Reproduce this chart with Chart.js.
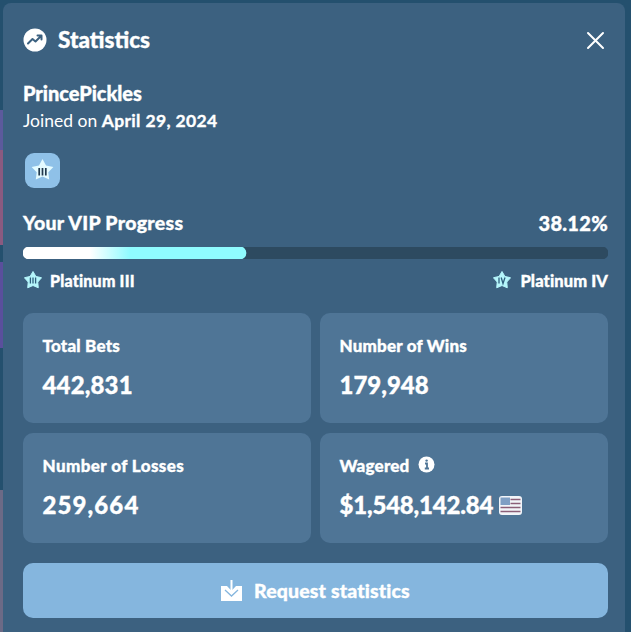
<!DOCTYPE html>
<html>
<head>
<meta charset="utf-8">
<script src="https://cdn.jsdelivr.net/npm/chart.js@4"></script>
<style>
  html, body { margin: 0; padding: 0; width: 631px; height: 632px; overflow: hidden; background: #24506e; }
  body { position: relative; font-family: Lato, sans-serif; color: #fff; }
  .strip { position: absolute; left: 0; width: 4px; }
  #panel { position: absolute; left: 3px; top: 3px; width: 622px; height: 640px; background: #3c6180; border-radius: 8px; }
  .t { position: absolute; white-space: nowrap; line-height: 1; }
  .heavy, .box .lbl, .box .val { -webkit-text-stroke: 0.35px #fff; }
  .box { position: absolute; width: 288px; height: 110px; background: #4f7596; border-radius: 10px; }
  .box .lbl { position: absolute; left: 19.5px; top: 24px; font-size: 17px; font-weight: 900; line-height: 1; white-space: nowrap; letter-spacing: 0.2px; }
  .box .val { position: absolute; left: 19.5px; top: 60px; font-size: 24px; font-weight: 900; line-height: 1; white-space: nowrap; letter-spacing: 0.15px; }
  .box.wins .val { letter-spacing: 0; }
  .box.losses .val { letter-spacing: 1.1px; }
  .box.losses .lbl { letter-spacing: 0.4px; }
  .box.wagered .val { letter-spacing: -0.2px; }
  #btn { position: absolute; left: 23px; top: 563px; width: 585px; height: 55px; background: #85b6de; border-radius: 10px; }
  svg { position: absolute; }
  #progressWrap { position: absolute; left: 23px; top: 247px; width: 585px; height: 12px; }
</style>
</head>
<body>
<div class="strip" style="top:110px;height:40px;background:#5c5a9c"></div>
<div class="strip" style="top:150px;height:95px;background:#8a5a80"></div>
<div class="strip" style="top:262px;height:86px;background:#5a4f9c"></div>
<div class="strip" style="top:490px;height:142px;background:#6c6a86"></div>
<div id="panel"></div>

<svg style="left:23px;top:28px" width="24" height="24" viewBox="0 0 24 24">
  <circle cx="12" cy="12" r="11.5" fill="#fff"/>
  <path d="M5 15.5 L9.5 11 L12.5 13.5 L18 8 M14.5 7.5 H18.5 V11.5" fill="none" stroke="#3c6180" stroke-width="2" stroke-linecap="round" stroke-linejoin="round"/>
</svg>
<div class="t heavy" id="title" style="left:58px;top:29px;font-size:22.5px;font-weight:900">Statistics</div>
<svg style="left:586px;top:31px" width="19" height="19" viewBox="0 0 19 19">
  <path d="M2 2 L17 17 M17 2 L2 17" stroke="#fff" stroke-width="2" stroke-linecap="round"/>
</svg>

<div class="t heavy" id="user" style="left:23px;top:83px;font-size:20px;font-weight:900;letter-spacing:-0.05px"></div>
<div class="t" style="left:23px;top:112px;font-size:17.5px;font-weight:400">Joined on <b id="joined" class="heavy" style="font-weight:700;letter-spacing:0.35px"></b></div>

<svg style="left:25px;top:153px" width="35" height="35" viewBox="0 0 35 35">
  <rect width="35" height="35" rx="9" fill="#8fc1e8"/>
  <path d="M17.5 6 L21 12.4 L28.4 13.9 L23.3 19.3 L24.2 26.6 L17.5 23.5 L10.8 26.6 L11.7 19.3 L6.6 13.9 L14 12.4 Z" fill="#e4fbff"/>
  <path d="M14.2 15 V22.5 M17.5 15 V22.5 M20.8 15 V22.5" stroke="#20384c" stroke-width="1.7"/>
</svg>

<div class="t heavy" style="left:23px;top:213px;font-size:19.5px;font-weight:900;letter-spacing:0.3px" id="vipTitle"></div>
<div class="t heavy" style="right:23px;top:213px;font-size:20px;font-weight:900;letter-spacing:0.3px" id="vipPct"></div>

<div id="progressWrap"><canvas id="progressChart" width="585" height="12"></canvas></div>

<svg style="left:24px;top:271px" width="18" height="18" viewBox="0 0 18 18">
  <path d="M9 0.5 L11.9 5.45 L17.56 6.72 L13.76 11.05 L14.29 16.78 L9 14.5 L3.71 16.78 L4.24 11.05 L0.44 6.72 L6.1 5.45 Z" fill="#b5f6fb" stroke="#b5f6fb" stroke-width="1" stroke-linejoin="round"/>
  <path d="M6.4 6.5 V12.5 M9 6.5 V12.5 M11.6 6.5 V12.5" stroke="#2f5f7d" stroke-width="1.3"/>
</svg>
<div class="t heavy" style="left:50px;top:273px;font-size:16px;font-weight:900;letter-spacing:0.2px" id="rankFrom"></div>
<svg style="left:493px;top:271px" width="18" height="18" viewBox="0 0 18 18">
  <path d="M9 0.5 L11.9 5.45 L17.56 6.72 L13.76 11.05 L14.29 16.78 L9 14.5 L3.71 16.78 L4.24 11.05 L0.44 6.72 L6.1 5.45 Z" fill="#b5f6fb" stroke="#b5f6fb" stroke-width="1" stroke-linejoin="round"/>
  <path d="M6 6.5 V12.5 M8.2 6.5 L10 12.5 L12 6.5" fill="none" stroke="#2f5f7d" stroke-width="1.3"/>
</svg>
<div class="t heavy" style="right:23px;top:273px;font-size:16.5px;font-weight:900;letter-spacing:0.1px" id="rankTo"></div>

<div class="box" style="left:23px;top:313px"><div class="lbl"></div><div class="val"></div></div>
<div class="box wins" style="left:320px;top:313px"><div class="lbl"></div><div class="val"></div></div>
<div class="box losses" style="left:23px;top:433px"><div class="lbl"></div><div class="val"></div></div>
<div class="box wagered" style="left:320px;top:433px"><div class="lbl"></div><div class="val"></div></div>

<svg style="left:418px;top:456px" width="17" height="17" viewBox="0 0 17 17">
  <circle cx="8.5" cy="8.5" r="8" fill="#fff"/>
  <path d="M7 7.5 H9 V12.5 M6.8 12.5 H11" fill="none" stroke="#4f7596" stroke-width="1.8"/>
  <circle cx="8.6" cy="4.6" r="1.2" fill="#4f7596"/>
</svg>
<svg style="left:499px;top:496px" width="23" height="19" viewBox="0 0 23 19">
  <rect width="23" height="19" rx="3" fill="#f2f5f9"/>
  <rect x="1.5" y="1.5" width="9.5" height="7.5" fill="#7f9fc4"/>
  <path d="M11.5 3.5 H21.5 M11.5 7.5 H21.5 M1.5 11.5 H21.5 M1.5 15.5 H21.5" stroke="#8c5f78" stroke-width="1.3"/>
</svg>

<div id="btn"></div>
<svg style="left:220px;top:579px" width="23" height="23" viewBox="0 0 23 23">
  <path d="M1 7 H7 L11.5 12 L16 7 H22 V22 H1 Z" fill="#fff"/>
  <path d="M11.5 1 V13 M7 9 L11.5 13.5 L16 9" fill="none" stroke="#fff" stroke-width="2"/>
  <path d="M5 11 L11.5 17 L18 11" fill="none" stroke="#85b6de" stroke-width="1.3"/>
</svg>
<div class="t heavy" id="btnLabel" style="left:254px;top:581px;font-size:19.5px;font-weight:900;letter-spacing:0.15px"></div>

<script>
const userName = 'PrincePickles';
const joinedDate = 'April 29, 2024';
const progressTitle = 'Your VIP Progress';
const progressCategories = ['VIP Progress'];
const progressDone = [38.12];
const progressTotal = [100];
const rankLabels = ['Platinum III', 'Platinum IV'];
const statLabels = ['Total Bets', 'Number of Wins', 'Number of Losses', 'Wagered'];
const statValues = ['442,831', '179,948', '259,664', '$1,548,142.84'];
const buttonLabel = 'Request statistics';

document.getElementById('user').textContent = userName;
document.getElementById('joined').textContent = joinedDate;
document.getElementById('vipTitle').textContent = progressTitle;
document.getElementById('vipPct').textContent = progressDone[0] + '%';
document.getElementById('rankFrom').textContent = rankLabels[0];
document.getElementById('rankTo').textContent = rankLabels[1];
document.getElementById('btnLabel').textContent = buttonLabel;

document.querySelectorAll('.box').forEach((box, i) => {
    box.querySelector('.lbl').textContent = statLabels[i];
    box.querySelector('.val').textContent = statValues[i];
});

// white to cyan along the filled part of the bar
const fillGradient = (ctx) => {
    const { chart } = ctx;
    if (!chart.chartArea) return '#8ffbff';
    const w = chart.chartArea.width * progressDone[0] / 100;
    const g = chart.ctx.createLinearGradient(0, 0, w, 0);
    g.addColorStop(0, '#ffffff');
    g.addColorStop(0.3, '#ffffff');
    g.addColorStop(0.48, '#8ffbff');
    g.addColorStop(1, '#8ffbff');
    return g;
};

new Chart(document.getElementById('progressChart'), {
    type: 'bar',
    data: {
        labels: progressCategories,
        datasets: [
            // lower order draws last, so the fill sits on the track
            { data: progressDone, order: 1, grouped: false, backgroundColor: fillGradient, borderRadius: 6, borderSkipped: false, barPercentage: 1, categoryPercentage: 1 },
            { data: progressTotal, order: 2, grouped: false, backgroundColor: '#2d4a60', borderRadius: 6, borderSkipped: false, barPercentage: 1, categoryPercentage: 1 }
        ]
    },
    options: {
        indexAxis: 'y',
        responsive: false,
        animation: false,
        layout: { padding: 0 },
        plugins: { legend: { display: false }, tooltip: { enabled: false } },
        scales: {
            x: { display: false, min: 0, max: 100 },
            y: { display: false }
        }
    }
});
</script>
</body>
</html>
